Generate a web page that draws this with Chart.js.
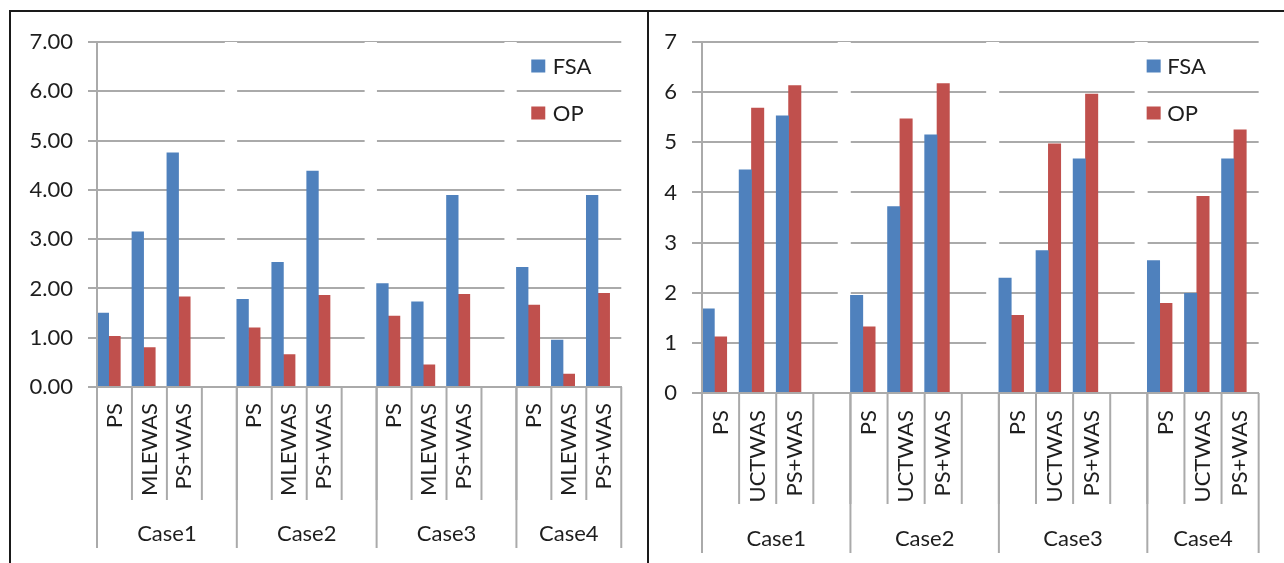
<!DOCTYPE html>
<html><head><meta charset="utf-8">
<script src="https://cdn.jsdelivr.net/npm/chart.js@4.4.0/dist/chart.umd.min.js"></script>
<style>
html,body{margin:0;padding:0;background:#fff;}
body{width:1284px;height:563px;position:relative;overflow:hidden;}
#frame{position:absolute;left:9px;top:10px;width:1290px;height:570px;border-left:2px solid #1a1a1a;border-top:2px solid #1a1a1a;}
#divider{position:absolute;left:647px;top:10px;width:2px;height:570px;background:#1a1a1a;}
.box{position:absolute;top:13px;height:550px;}
#left{left:11px;width:636px;}
#right{left:649px;width:635px;}
</style></head>
<body>
<div id="frame"></div><div id="divider"></div>
<div class="box" id="left"><canvas id="c1"></canvas></div>
<div class="box" id="right"><canvas id="c2"></canvas></div>
<script>
// ---- data ----
const cases = ['Case1', 'Case2', 'Case3', 'Case4'];
const slotsPerCase = [4, 4, 4, 3];
const subCatsLeft = ['PS', 'MLEWAS', 'PS+WAS', '', 'PS', 'MLEWAS', 'PS+WAS', '', 'PS', 'MLEWAS', 'PS+WAS', '', 'PS', 'MLEWAS', 'PS+WAS'];
const subCatsRight = ['PS', 'UCTWAS', 'PS+WAS', '', 'PS', 'UCTWAS', 'PS+WAS', '', 'PS', 'UCTWAS', 'PS+WAS', '', 'PS', 'UCTWAS', 'PS+WAS'];
const seriesNames = ['FSA', 'OP'];
const fsaLeft = [1.50, 3.15, 4.75, null, 1.78, 2.53, 4.38, null, 2.10, 1.73, 3.89, null, 2.43, 0.95, 3.89];
const opLeft  = [1.03, 0.80, 1.83, null, 1.20, 0.66, 1.86, null, 1.44, 0.45, 1.88, null, 1.66, 0.26, 1.90];
const fsaRight = [1.68, 4.45, 5.53, null, 1.95, 3.72, 5.15, null, 2.29, 2.84, 4.67, null, 2.64, 1.99, 4.67];
const opRight  = [1.12, 5.68, 6.13, null, 1.32, 5.47, 6.17, null, 1.55, 4.97, 5.96, null, 1.79, 3.92, 5.25];
// white spacer series that cuts the gridlines in the empty slot before each new case
const gapLeft  = [null, null, null, 7, null, null, null, 7, null, null, null, 7, null, null, null];
const gapRight = [null, null, null, 7, null, null, null, 7, null, null, null, 7, null, null, null];
const yTicksLeft  = ['0.00', '1.00', '2.00', '3.00', '4.00', '5.00', '6.00', '7.00'];
const yTicksRight = ['0', '1', '2', '3', '4', '5', '6', '7'];

// ---- style ----
const BLUE = '#4F81BD', RED = '#C0504D';
const GRID = '#aaaaaa', TEXT = '#1e1e1e';
const FONT = 'Lato, "Open Sans", sans-serif';

const groupAxisPlugin = {
  id: 'groupAxis',
  afterDraw(chart, args, o) {
    const ctx = chart.ctx, xs = chart.scales.x, area = chart.chartArea;
    const n = chart.data.labels.length;
    const w = xs.getPixelForValue(1) - xs.getPixelForValue(0);
    const edge = i => xs.getPixelForValue(i) - w / 2;
    const b = area.bottom;
    ctx.save();
    ctx.strokeStyle = GRID; ctx.lineWidth = 2;
    for (let i = 1; i < n; i++) {
      const x = edge(i);
      ctx.beginPath(); ctx.moveTo(x, b); ctx.lineTo(x, b + o.shortLen); ctx.stroke();
    }
    let start = 0;
    ctx.fillStyle = TEXT; ctx.textAlign = 'center'; ctx.textBaseline = 'middle';
    ctx.font = o.caseFont + 'px ' + FONT;
    cases.forEach((c, k) => {
      const end = start + slotsPerCase[k];
      const xs0 = edge(start), xs1 = edge(end);
      ctx.beginPath(); ctx.moveTo(xs0, b); ctx.lineTo(xs0, b + o.longLen); ctx.stroke();
      if (k === cases.length - 1) { ctx.beginPath(); ctx.moveTo(xs1, b); ctx.lineTo(xs1, b + o.longLen); ctx.stroke(); }
      ctx.fillText(c, (xs0 + xs1) / 2, b + o.caseY);
      start = end;
    });
    // legend
    ctx.textAlign = 'left';
    ctx.font = o.legendFont + 'px ' + FONT;
    const lx = area.right - o.legendDx;
    chart.data.datasets.forEach((ds, k) => {
      if (!ds.label) return;
      const cy = area.top + o.legendY0 + k * o.legendStep;
      ctx.fillStyle = ds.backgroundColor;
      ctx.fillRect(lx, cy - 6.5, 14, 13);
      ctx.fillStyle = TEXT;
      ctx.fillText(ds.label, lx + o.legendTextDx, cy + 1);
    });
    ctx.restore();
  }
};

function makeChart(id, labels, fsa, op, gap, yTicks, c) {
  return new Chart(document.getElementById(id), {
    type: 'bar',
    data: {
      labels: labels,
      datasets: [
        { label: seriesNames[0], data: fsa, backgroundColor: BLUE, categoryPercentage: 1, barPercentage: 1 },
        { label: seriesNames[1], data: op, backgroundColor: RED, categoryPercentage: 1, barPercentage: 1 },
        { label: '', data: gap, backgroundColor: '#ffffff', categoryPercentage: 1, barPercentage: 1 }
      ]
    },
    options: {
      responsive: true, maintainAspectRatio: false, animation: false,
      layout: { padding: { left: 0, top: c.padTop, right: c.padRight, bottom: 0 } },
      plugins: { legend: { display: false }, tooltip: { enabled: false }, groupAxis: c },
      scales: {
        x: {
          type: 'category', offset: true,
          grid: { display: false, drawTicks: false },
          border: { display: true, color: GRID, width: 2, z: 1 },
          ticks: { autoSkip: false, maxRotation: 90, minRotation: 90, padding: c.xPad, color: TEXT, font: { family: FONT, size: c.subFont } },
          afterFit: s => { s.height = c.xHeight; }
        },
        y: {
          min: 0, max: 7,
          grid: { color: GRID, lineWidth: 2, tickLength: c.tickLen, drawTicks: true },
          border: { display: true, color: GRID, width: 2, z: 1 },
          ticks: { stepSize: 1, padding: c.yPad, color: TEXT, font: { family: FONT, size: c.yFont }, callback: (v, i) => yTicks[i] },
          afterFit: s => { s.width = c.yWidth; }
        }
      }
    },
    plugins: [groupAxisPlugin]
  });
}

function draw() {
  makeChart('c1', subCatsLeft, fsaLeft, opLeft, gapLeft, yTicksLeft, {
    padTop: 29, padRight: 24, yWidth: 86, xHeight: 176, tickLen: 9, yPad: 15, xPad: 16,
    shortLen: 113, longLen: 161, caseY: 147, subFont: 22, caseFont: 22, yFont: 22,
    legendFont: 22, legendDx: 90, legendY0: 24, legendStep: 47, legendTextDx: 21.5
  });
  makeChart('c2', subCatsRight, fsaRight, opRight, gapRight, yTicksRight, {
    padTop: 29, padRight: 15, yWidth: 53, xHeight: 170, tickLen: 10, yPad: 15, xPad: 17,
    shortLen: 111, longLen: 160, caseY: 146, subFont: 22, caseFont: 22, yFont: 22,
    legendFont: 22, legendDx: 112, legendY0: 24, legendStep: 47, legendTextDx: 20.5
  });
}
if (document.fonts && document.fonts.load) {
  Promise.all([document.fonts.load('22px Lato')]).then(draw, draw);
} else { draw(); }
</script>
</body></html>
